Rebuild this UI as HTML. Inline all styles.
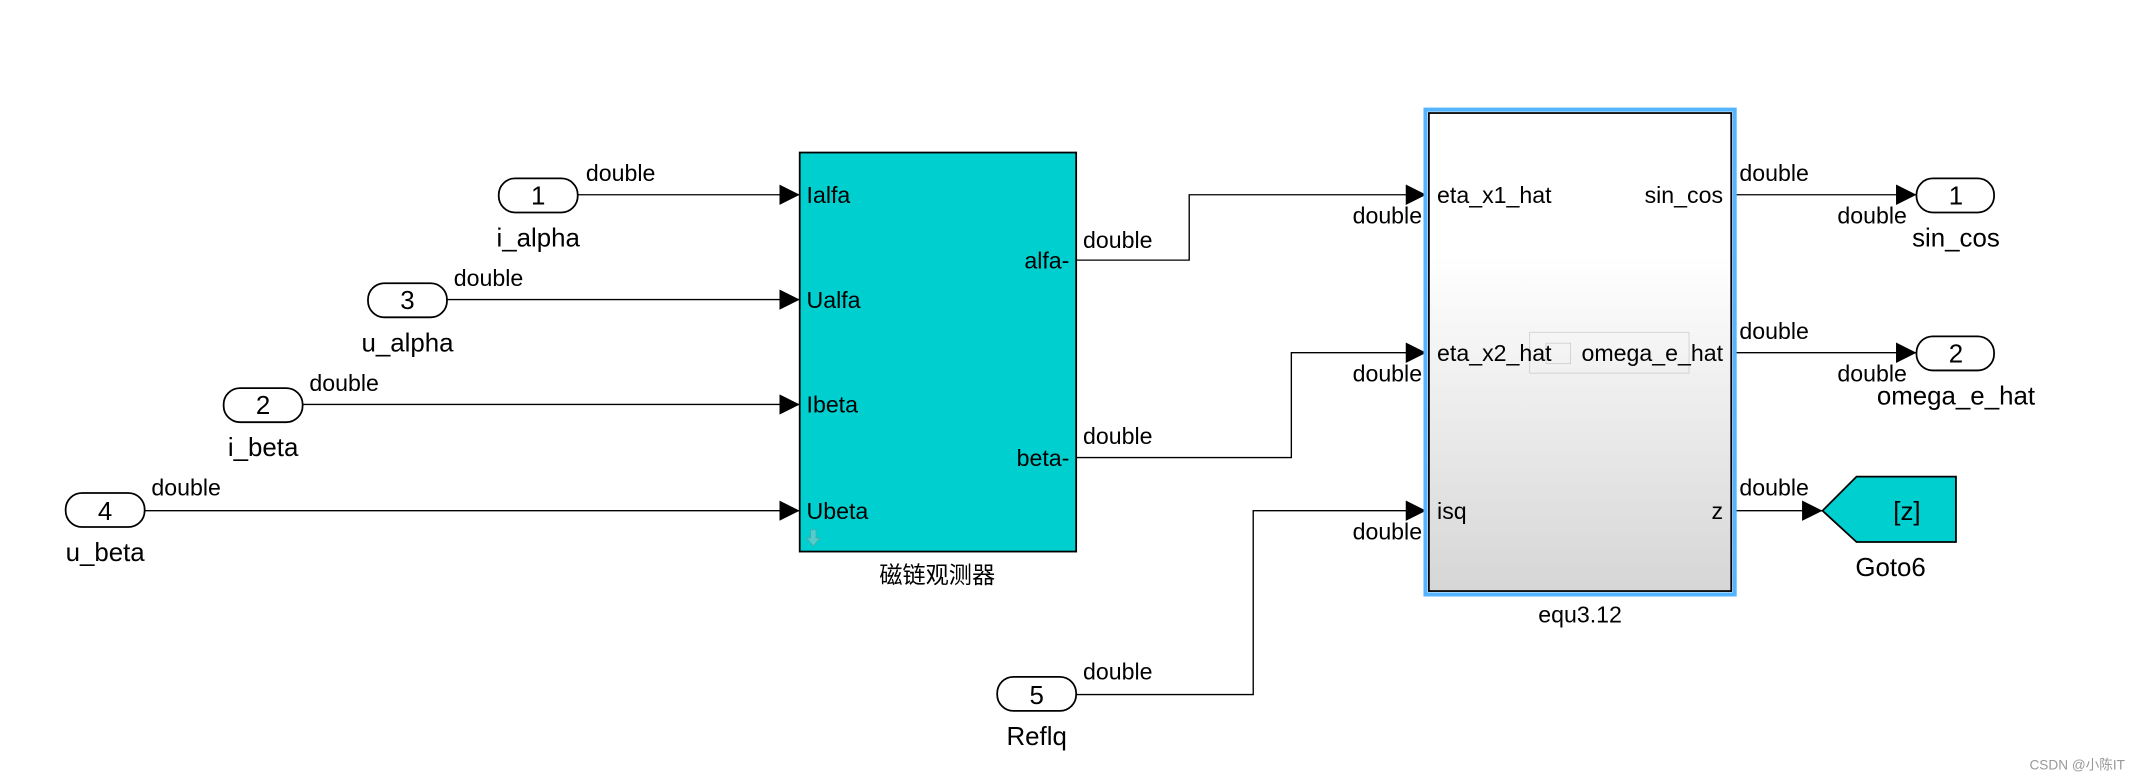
<!DOCTYPE html>
<html><head><meta charset="utf-8"><style>
html,body{margin:0;padding:0;background:#fff;}
svg{display:block;}
text{font-family:"Liberation Sans","Noto Sans CJK SC",sans-serif;font-size:17px;fill:#000;}
.big{font-size:19px;}
</style></head><body>
<svg width="2136" height="779" viewBox="0 0 1568 572" xmlns="http://www.w3.org/2000/svg">
<defs>
<linearGradient id="g" x1="0" y1="0" x2="0" y2="1">
<stop offset="0" stop-color="#ffffff"/><stop offset="0.3" stop-color="#ffffff"/><stop offset="1" stop-color="#d6d6d6"/>
</linearGradient>
<marker id="a" viewBox="0 0 10 10" refX="10" refY="5" markerWidth="15" markerHeight="15" markerUnits="userSpaceOnUse" orient="auto"><path d="M0,0 L10,5 L0,10 z" fill="#000"/></marker>
</defs>
<g fill="none" stroke="#000" stroke-width="1">
<line x1="424" y1="143" x2="587" y2="143" marker-end="url(#a)"/>
<line x1="328" y1="220" x2="587" y2="220" marker-end="url(#a)"/>
<line x1="222" y1="297" x2="587" y2="297" marker-end="url(#a)"/>
<line x1="106" y1="375" x2="587" y2="375" marker-end="url(#a)"/>
<polyline points="790,191 873,191 873,143 1047,143" marker-end="url(#a)"/>
<polyline points="790,336 948,336 948,259 1047,259" marker-end="url(#a)"/>
<polyline points="790,510 920,510 920,375 1047,375" marker-end="url(#a)"/>
<line x1="1273" y1="143" x2="1407" y2="143" marker-end="url(#a)"/>
<line x1="1273" y1="259" x2="1407" y2="259" marker-end="url(#a)"/>
<line x1="1273" y1="375" x2="1338" y2="375" marker-end="url(#a)"/>
</g>
<g fill="#fff" stroke="#000" stroke-width="1.3">
<rect x="366" y="131" width="58" height="25" rx="12"/>
<rect x="270" y="208" width="58" height="25" rx="12"/>
<rect x="164" y="285" width="58" height="25" rx="12"/>
<rect x="48" y="362" width="58" height="25" rx="12"/>
<rect x="732" y="497" width="58" height="25" rx="12"/>
<rect x="1407" y="131" width="57" height="25" rx="12"/>
<rect x="1407" y="247" width="57" height="25" rx="12"/>
</g>
<g text-anchor="middle">
<text class="big" x="395" y="150">1</text><text class="big" x="299" y="227">3</text><text class="big" x="193" y="304">2</text><text class="big" x="77" y="382">4</text><text class="big" x="761" y="517">5</text>
<text class="big" x="1436" y="150">1</text><text class="big" x="1436" y="266">2</text>
<text class="big" x="395" y="181">i_alpha</text><text class="big" x="299" y="258">u_alpha</text><text class="big" x="193" y="335">i_beta</text><text class="big" x="77" y="412">u_beta</text><text class="big" x="761" y="547">Reflq</text>
<text class="big" x="1436" y="181">sin_cos</text><text class="big" x="1436" y="297">omega_e_hat</text>
<text x="688" y="428">磁链观测器</text>
<text x="1160" y="457">equ3.12</text>
<text class="big" x="1388" y="423">Goto6</text>
</g>
<rect x="587" y="112" width="203" height="293" fill="#00cfcf" stroke="#000" stroke-width="1.3"/>
<path d="M595,389 v6 h-3 l5,6 l5,-6 h-3 v-6 z" fill="#5cc" stroke="#4aa" stroke-width="0.6"/>
<text x="592" y="149">Ialfa</text><text x="592" y="226">Ualfa</text><text x="592" y="303">Ibeta</text><text x="592" y="381">Ubeta</text>
<text x="785" y="197" text-anchor="end">alfa-</text><text x="785" y="342" text-anchor="end">beta-</text>
<rect x="1046.5" y="80.5" width="227" height="356" fill="none" stroke="#55b4ff" stroke-width="3"/>
<rect x="1049" y="83" width="222" height="351" fill="url(#g)" stroke="#000" stroke-width="1.3"/>
<g fill="none" stroke="#ccc" stroke-width="0.6"><rect x="1123" y="244" width="117" height="30"/><rect x="1135" y="252" width="18" height="15"/></g>
<text x="1055" y="149">eta_x1_hat</text><text x="1055" y="265">eta_x2_hat</text><text x="1055" y="381">isq</text>
<text x="1265" y="149" text-anchor="end">sin_cos</text><text x="1265" y="265" text-anchor="end">omega_e_hat</text><text x="1265" y="381" text-anchor="end">z</text>
<path d="M1338,375 L1363,350 L1436,350 L1436,398 L1363,398 Z" fill="#00cfcf" stroke="#000" stroke-width="1.3"/>
<text class="big" x="1400" y="382" text-anchor="middle">[z]</text>
<g>
<text x="430" y="133">double</text><text x="333" y="210">double</text><text x="227" y="287">double</text><text x="111" y="364">double</text>
<text x="795" y="182">double</text><text x="795" y="326">double</text><text x="795" y="499">double</text>
<text x="1044" y="164" text-anchor="end">double</text><text x="1044" y="280" text-anchor="end">double</text><text x="1044" y="396" text-anchor="end">double</text>
<text x="1277" y="133">double</text><text x="1277" y="249">double</text><text x="1277" y="364">double</text>
<text x="1400" y="164" text-anchor="end">double</text><text x="1400" y="280" text-anchor="end">double</text>
</g>
<text x="1490" y="565" style="font-size:10px;fill:#999">CSDN @小陈IT</text>
</svg>
</body></html>
